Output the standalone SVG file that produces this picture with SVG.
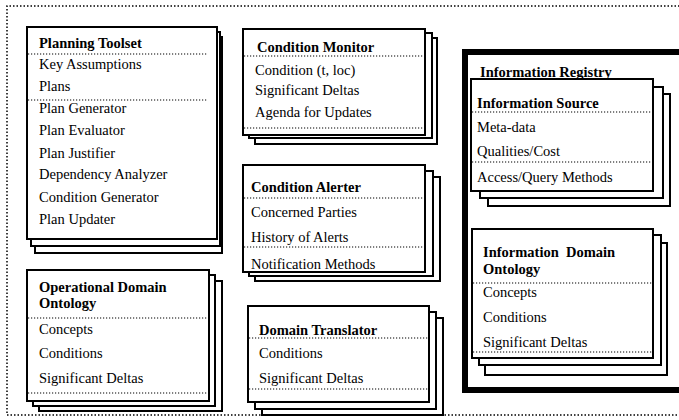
<svg xmlns="http://www.w3.org/2000/svg" width="679" height="420" viewBox="0 0 679 420">
<style>
.bx{fill:#fff;stroke:#000;stroke-width:2}
.dl{stroke:#000;stroke-width:1.2;stroke-dasharray:1.2 1.8;fill:none}
.od{stroke:#000;stroke-width:1.5;stroke-dasharray:1.5 2;fill:none}
text{font-family:"Liberation Serif","Times New Roman",serif;font-size:14.5px;fill:#000}
.t{font-weight:bold}
</style>
<defs>
<clipPath id="caClip"><rect x="243" y="165" width="182" height="106"/></clipPath>
</defs>
<g id="frame">
<path class="od" d="M690,6 H7 V415 H690"/>
</g>
<g id="planning-toolset">
<rect class="bx" x="35" y="37" width="187" height="216"/>
<rect class="bx" x="31" y="32" width="189" height="214"/>
<rect class="bx" x="27" y="27" width="190" height="212"/>
<text class="t" x="39" y="48">Planning Toolset</text>
<line class="dl" x1="28" y1="54" x2="208" y2="54"/>
<text x="39" y="69">Key Assumptions</text>
<text x="39" y="91">Plans</text>
<line class="dl" x1="28" y1="100" x2="208" y2="100"/>
<text x="39" y="113">Plan Generator</text>
<text x="39" y="135">Plan Evaluator</text>
<text x="39" y="158">Plan Justifier</text>
<text x="39" y="179">Dependency Analyzer</text>
<text x="39" y="202">Condition Generator</text>
<text x="39" y="224">Plan Updater</text>
</g>
<g id="condition-monitor">
<rect class="bx" x="255" y="38" width="182" height="106"/>
<rect class="bx" x="249" y="33" width="183" height="105"/>
<rect class="bx" x="243" y="29" width="182" height="106"/>
<text class="t" x="257" y="52">Condition Monitor</text>
<line class="dl" x1="244" y1="56" x2="424" y2="56"/>
<text x="255" y="75">Condition (t, loc)</text>
<text x="255" y="95">Significant Deltas</text>
<text x="255" y="117">Agenda for Updates</text>
<line class="dl" x1="244" y1="128" x2="424" y2="128"/>
</g>
<g id="condition-alerter">
<rect class="bx" x="255" y="177" width="185" height="104"/>
<rect class="bx" x="249" y="171" width="184" height="105"/>
<rect class="bx" x="243" y="165" width="182" height="107"/>
<g clip-path="url(#caClip)">
<text class="t" x="251" y="192">Condition Alerter</text>
<line class="dl" x1="244" y1="198" x2="424" y2="198"/>
<text x="251" y="217">Concerned Parties</text>
<text x="251" y="242">History of Alerts</text>
<line class="dl" x1="244" y1="247" x2="424" y2="247"/>
<text x="251" y="269">Notification Methods</text>
</g>
<line x1="243" y1="272" x2="425" y2="272" stroke="#000" stroke-width="2"/>
</g>
<g id="operational-domain-ontology">
<rect class="bx" x="39" y="281" width="183" height="130"/>
<rect class="bx" x="33" y="275" width="182" height="131"/>
<rect class="bx" x="27" y="270" width="182" height="131"/>
<text class="t" x="39" y="292">Operational Domain</text>
<text class="t" x="39" y="308">Ontology</text>
<line class="dl" x1="28" y1="318" x2="208" y2="318"/>
<text x="39" y="334">Concepts</text>
<text x="39" y="358">Conditions</text>
<text x="39" y="383">Significant Deltas</text>
<line class="dl" x1="28" y1="393" x2="208" y2="393"/>
</g>
<g id="domain-translator">
<rect class="bx" x="262" y="318" width="181" height="97"/>
<rect class="bx" x="255" y="312" width="181" height="97"/>
<rect class="bx" x="248" y="306" width="181" height="96"/>
<text class="t" x="259" y="335">Domain Translator</text>
<line class="dl" x1="249" y1="338" x2="428" y2="338"/>
<text x="259" y="358">Conditions</text>
<text x="259" y="383">Significant Deltas</text>
<line class="dl" x1="249" y1="389" x2="428" y2="389"/>
</g>
<g id="information-registry">
<rect x="465" y="52" width="230" height="338" fill="#fff" stroke="#000" stroke-width="6"/>
<text class="t" x="480" y="77">Information Registry</text>
<g id="information-source">
<rect class="bx" x="488" y="94" width="182" height="112"/>
<rect class="bx" x="480" y="87" width="183" height="111"/>
<rect class="bx" x="471" y="79" width="182" height="112"/>
<text class="t" x="477" y="108">Information Source</text>
<line class="dl" x1="472" y1="112" x2="652" y2="112"/>
<text x="477" y="132">Meta-data</text>
<text x="477" y="156">Qualities/Cost</text>
<line class="dl" x1="472" y1="162" x2="652" y2="162"/>
<text x="477" y="182">Access/Query Methods</text>
</g>
<g id="information-domain-ontology">
<rect class="bx" x="485" y="243" width="182" height="132"/>
<rect class="bx" x="479" y="235" width="182" height="130"/>
<rect class="bx" x="472" y="229" width="181" height="129"/>
<text class="t" x="483" y="257" xml:space="preserve">Information  Domain</text>
<text class="t" x="483" y="274">Ontology</text>
<line class="dl" x1="473" y1="283" x2="652" y2="283"/>
<text x="483" y="297">Concepts</text>
<text x="483" y="322">Conditions</text>
<text x="483" y="347">Significant Deltas</text>
<line class="dl" x1="473" y1="352" x2="652" y2="352"/>
</g>
</g>
</svg>
